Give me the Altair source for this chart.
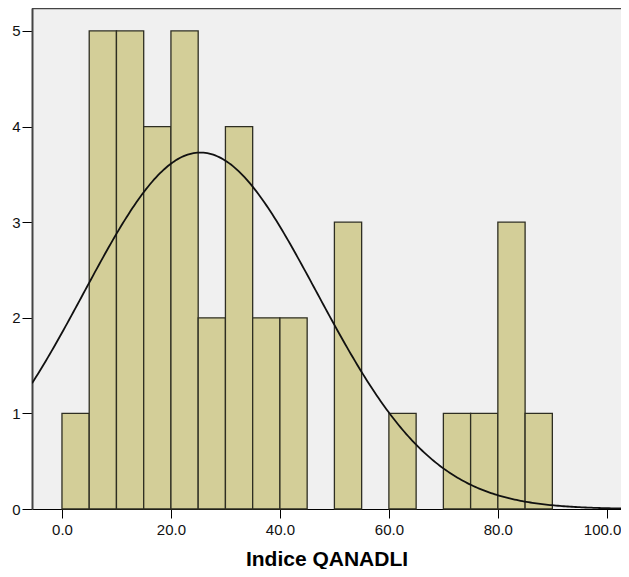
import altair as alt
import numpy as np
import pandas as pd

# Histogram data (bin width 5)
bin_starts = [0, 5, 10, 15, 20, 25, 30, 35, 40, 45, 50, 55, 60, 65, 70, 75, 80, 85]
counts     = [1, 5, 5, 4, 5, 2, 4, 2, 2, 0, 3, 0, 1, 0, 1, 1, 3, 1]
bin_width = 5

# Fitted normal curve parameters
mean_val = 25.4
sd_val = 21.4
n_total = sum(counts)

x_ticks = [0, 20, 40, 60, 80, 100]
y_ticks = [0, 1, 2, 3, 4, 5]
x_domain = [-5.5, 102.6]
y_domain = [0, 5.24]

bars = pd.DataFrame({
    "start": bin_starts,
    "end": [s + bin_width for s in bin_starts],
    "count": counts,
})
bars = bars[bars["count"] > 0]

xs = np.linspace(x_domain[0], x_domain[1], 300)
curve = pd.DataFrame({
    "x": xs,
    "y": n_total * bin_width / (sd_val * np.sqrt(2 * np.pi))
         * np.exp(-((xs - mean_val) ** 2) / (2 * sd_val ** 2)),
})

W, H = 589, 501
FONT = "Liberation Sans"

xscale = alt.Scale(domain=x_domain, nice=False, zero=False)
yscale = alt.Scale(domain=y_domain, nice=False)

bar_layer = alt.Chart(bars).mark_rect(
    fill="#D3CE98", stroke="#2e2e22", strokeWidth=1.3
).encode(
    x=alt.X("start:Q", scale=xscale, axis=alt.Axis(
        values=x_ticks, format=".1f", title="Indice QANADLI", grid=False,
        tickSize=9, tickColor="#000", domainColor="#000", domainWidth=1.2,
        labelFontSize=15, labelColor="#111", labelPadding=4, labelFont=FONT,
        labelFlush=20, labelFlushOffset=14,
        titleFontSize=21, titleFontWeight="bold", titleFont=FONT,
        titleColor="#000", titlePadding=11)),
    x2="end:Q",
    y=alt.Y("count:Q", scale=yscale, axis=alt.Axis(
        values=y_ticks, format="d", title=None, grid=False,
        tickSize=10, tickColor="#000", domainColor="#444", domainWidth=2,
        labelFontSize=15, labelColor="#111", labelPadding=2, labelFont=FONT)),
    y2=alt.datum(0),
)

line_layer = alt.Chart(curve).mark_line(
    color="#111", strokeWidth=1.8, clip=True
).encode(
    x=alt.X("x:Q", scale=xscale),
    y=alt.Y("y:Q", scale=yscale),
)

top_border = alt.Chart(pd.DataFrame({"a": [0]})).mark_rule(
    color="#444", strokeWidth=2.5
).encode(x=alt.value(0), x2=alt.value(W), y=alt.value(0))

chart = alt.layer(bar_layer, line_layer, top_border).properties(
    width=W, height=H,
    autosize=alt.AutoSizeParams(type="none"),
    padding={"left": 24, "top": 0, "right": 0, "bottom": 60},
    background="white",
).configure_view(fill="#F0F0F0", stroke=None)

chart.save("out.html", embed_options={"renderer": "svg", "actions": False})
